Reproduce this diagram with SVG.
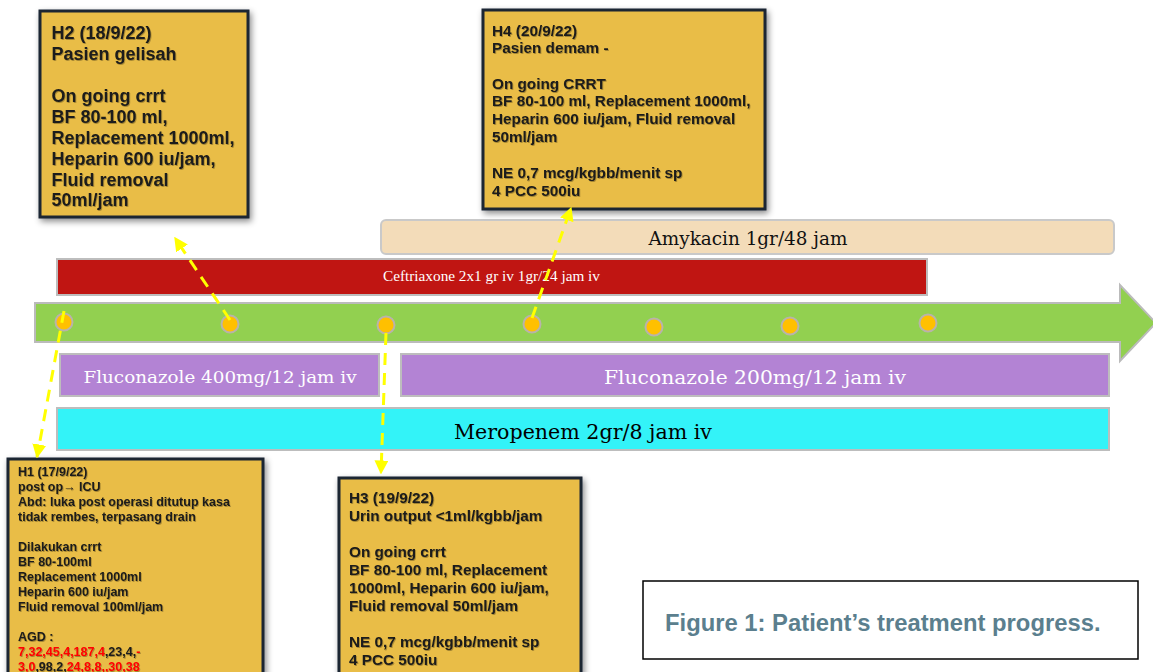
<svg xmlns="http://www.w3.org/2000/svg" width="1153" height="672" viewBox="0 0 1153 672">
<defs>
<style>
.note{fill:#e9bd46;stroke:#1c2533;stroke-width:3}
.nt{font-family:"Liberation Sans",Arial,sans-serif;font-weight:bold;fill:#1a1a1a}
.red{fill:#ff0000}
.bar{stroke:#bdbdbd;stroke-width:2}
.slab{font-family:"DejaVu Serif","Liberation Serif",serif}
.dot{fill:#ffc000;stroke:#b9b3aa;stroke-width:2}
.conn{fill:none;stroke:#ffff00;stroke-width:3;stroke-dasharray:12 8}
</style>
<filter id="sh" x="-10%" y="-10%" width="130%" height="130%">
<feDropShadow dx="2" dy="3" stdDeviation="3" flood-color="#000" flood-opacity="0.45"/>
</filter>
<filter id="tsh" x="-5%" y="-20%" width="110%" height="150%">
<feDropShadow dx="0.8" dy="1" stdDeviation="0.7" flood-color="#000" flood-opacity="0.3"/>
</filter>
<marker id="ah" viewBox="0 0 10 10" refX="9" refY="5" markerWidth="14" markerHeight="14" markerUnits="userSpaceOnUse" orient="auto">
<path d="M0,0 L10,5 L0,10 Z" fill="#ffff00"/>
</marker>
</defs>
<rect width="1153" height="672" fill="#ffffff"/>

<g id="bar-amykacin">
<rect x="381" y="220" width="733" height="34" rx="5" fill="#f3dcb9" stroke="#c9c9c9" stroke-width="2"/>
<text x="748" y="245" class="slab" font-size="18" text-anchor="middle" fill="#111" textLength="199" lengthAdjust="spacingAndGlyphs">Amykacin 1gr/48 jam</text>
</g>
<g id="bar-ceftriaxone">
<rect x="57" y="259" width="870" height="36" class="bar" fill="#c01512"/>
<text x="383" y="281" font-family="Liberation Serif,serif" font-size="14" fill="#ffffff" textLength="217" lengthAdjust="spacingAndGlyphs">Ceftriaxone 2x1 gr iv 1gr/24 jam iv</text>
</g>
<g id="timeline">
<path d="M35,303 H1120 V285 L1156,323 L1120,361 V342 H35 Z" fill="#92d050" stroke="#bbbbbb" stroke-width="2"/>
<circle class="dot" cx="64" cy="322" r="8.5"/>
<circle class="dot" cx="230" cy="324" r="8.5"/>
<circle class="dot" cx="386" cy="325" r="8.5"/>
<circle class="dot" cx="532" cy="324" r="8.5"/>
<circle class="dot" cx="654" cy="327" r="8.5"/>
<circle class="dot" cx="790" cy="326" r="8.5"/>
<circle class="dot" cx="928" cy="323" r="8.5"/>
</g>
<g id="bar-fluconazole400">
<rect x="60" y="354" width="319" height="42" class="bar" fill="#b383d4"/>
<text x="220" y="383" class="slab" font-size="17" text-anchor="middle" fill="#ffffff" textLength="273" lengthAdjust="spacingAndGlyphs">Fluconazole 400mg/12 jam iv</text>
</g>
<g id="bar-fluconazole200">
<rect x="401" y="354" width="708" height="42" class="bar" fill="#b383d4"/>
<text x="755" y="384" class="slab" font-size="19" text-anchor="middle" fill="#ffffff" textLength="302" lengthAdjust="spacingAndGlyphs">Fluconazole 200mg/12 jam iv</text>
</g>
<g id="bar-meropenem">
<rect x="57" y="408" width="1052" height="42" class="bar" fill="#33f3f8"/>
<text x="454" y="439" class="slab" font-size="20" fill="#000000" textLength="258" lengthAdjust="spacingAndGlyphs">Meropenem 2gr/8 jam iv</text>
</g>

<g id="node-h2">
<rect x="40" y="11" width="208" height="206" class="note" filter="url(#sh)"/>
<text class="nt" font-size="18" filter="url(#tsh)">
<tspan x="51.5" y="38.5">H2 (18/9/22)</tspan>
<tspan x="51.5" y="59.5">Pasien gelisah</tspan>
<tspan x="51.5" y="101.5">On going crrt</tspan>
<tspan x="51.5" y="122.5">BF 80-100 ml,</tspan>
<tspan x="51.5" y="143.5">Replacement 1000ml,</tspan>
<tspan x="51.5" y="164.5">Heparin 600 iu/jam,</tspan>
<tspan x="51.5" y="185.5">Fluid removal</tspan>
<tspan x="51.5" y="206">50ml/jam</tspan>
</text>
</g>
<g id="node-h4">
<rect x="483" y="10" width="282" height="199" class="note" filter="url(#sh)"/>
<text class="nt" font-size="15.3" filter="url(#tsh)">
<tspan x="492" y="35.5">H4 (20/9/22)</tspan>
<tspan x="492" y="53">Pasien demam -</tspan>
<tspan x="492" y="88.5">On going CRRT</tspan>
<tspan x="492" y="106">BF 80-100 ml, Replacement 1000ml,</tspan>
<tspan x="492" y="124">Heparin 600 iu/jam, Fluid removal</tspan>
<tspan x="492" y="142">50ml/jam</tspan>
<tspan x="492" y="178">NE 0,7 mcg/kgbb/menit sp</tspan>
<tspan x="492" y="196">4 PCC 500iu</tspan>
</text>
</g>
<g id="node-h1">
<rect x="8" y="459" width="255" height="230" class="note" filter="url(#sh)"/>
<text class="nt" font-size="12.5" filter="url(#tsh)">
<tspan x="18" y="476">H1 (17/9/22)</tspan>
<tspan x="18" y="491">post op→ ICU</tspan>
<tspan x="18" y="506">Abd: luka post operasi ditutup kasa</tspan>
<tspan x="18" y="521">tidak rembes, terpasang drain</tspan>
<tspan x="18" y="551">Dilakukan crrt</tspan>
<tspan x="18" y="566">BF 80-100ml</tspan>
<tspan x="18" y="581">Replacement 1000ml</tspan>
<tspan x="18" y="596">Heparin 600 iu/jam</tspan>
<tspan x="18" y="611">Fluid removal 100ml/jam</tspan>
<tspan x="18" y="641">AGD :</tspan>
<tspan x="18" y="656"><tspan class="red">7,32,45,4,187,4</tspan>,23,4,<tspan class="red">-</tspan></tspan>
<tspan x="18" y="671"><tspan class="red">3,0</tspan>,98,2,<tspan class="red">24,8,8,,30,38</tspan></tspan>
</text>
</g>
<g id="node-h3">
<rect x="339" y="478" width="242" height="210" class="note" filter="url(#sh)"/>
<text class="nt" font-size="15.3" filter="url(#tsh)">
<tspan x="349" y="503">H3 (19/9/22)</tspan>
<tspan x="349" y="521">Urin output &lt;1ml/kgbb/jam</tspan>
<tspan x="349" y="557">On going crrt</tspan>
<tspan x="349" y="575">BF 80-100 ml, Replacement</tspan>
<tspan x="349" y="593">1000ml, Heparin 600 iu/jam,</tspan>
<tspan x="349" y="611">Fluid removal 50ml/jam</tspan>
<tspan x="349" y="647">NE 0,7 mcg/kgbb/menit sp</tspan>
<tspan x="349" y="665">4 PCC 500iu</tspan>
</text>
</g>
<g id="caption">
<rect x="643" y="581" width="495" height="78" fill="#ffffff" stroke="#000000" stroke-width="1.5"/>
<text x="665" y="631" font-family="Liberation Sans,Arial,sans-serif" font-weight="bold" font-size="23.8" fill="#5b7f8e">Figure 1: Patient’s treatment progress.</text>
</g>

<g id="connectors">
<path class="conn" d="M64,311 L37,457" marker-end="url(#ah)"/>
<path class="conn" d="M230,320 L175,238" marker-end="url(#ah)"/>
<path class="conn" d="M386,333 L381,473" marker-end="url(#ah)"/>
<path class="conn" d="M532,318 L571,208" marker-end="url(#ah)"/>
</g>
</svg>
